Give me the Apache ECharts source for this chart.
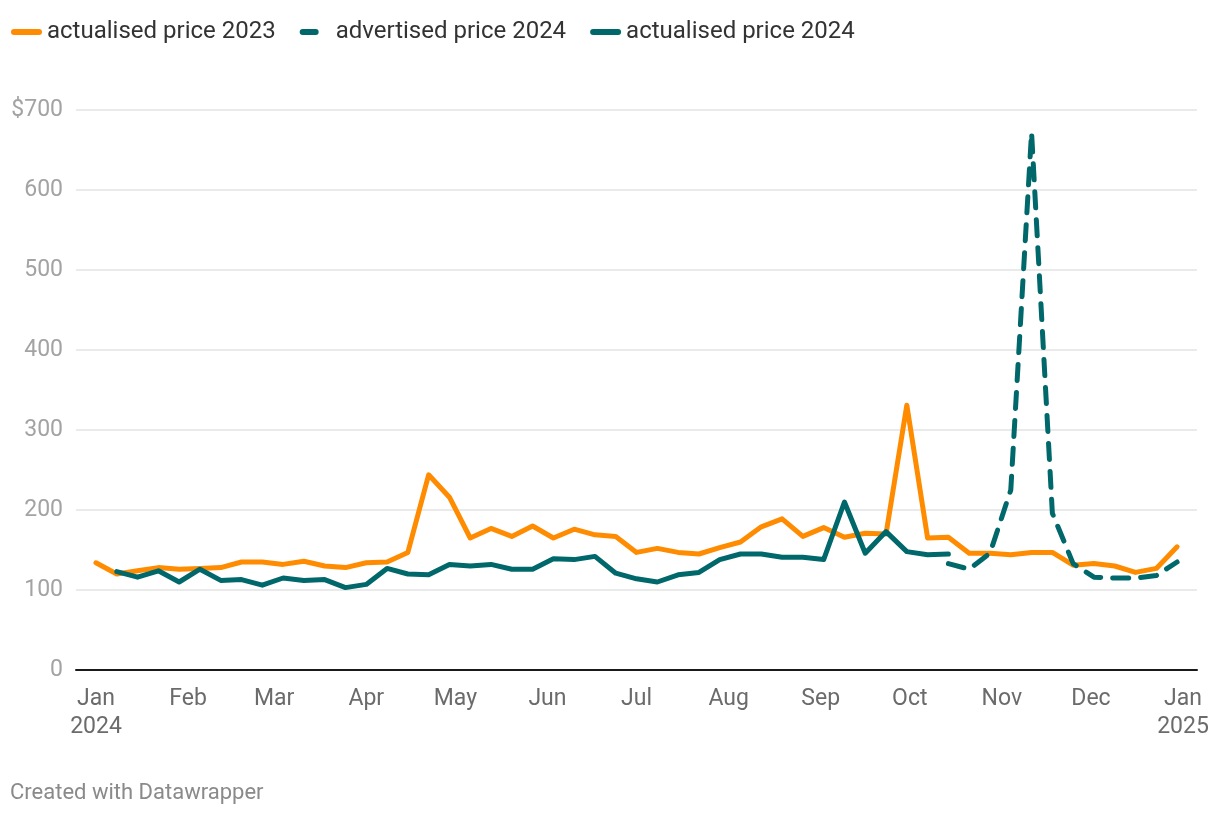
<!DOCTYPE html>
<html>
<head>
<meta charset="utf-8">
<script src="https://cdn.jsdelivr.net/npm/echarts@6/dist/echarts.min.js"></script>
<style>
  html, body { margin: 0; padding: 0; background: #fff; }
  #chart { width: 1220px; height: 816px; }
</style>
</head>
<body>
<div id="chart"></div>
<script>
// Weekly observation dates (2024)
const weeks = [
  '2024-01-01','2024-01-08','2024-01-15','2024-01-22','2024-01-29',
  '2024-02-05','2024-02-12','2024-02-19','2024-02-26',
  '2024-03-04','2024-03-11','2024-03-18','2024-03-25',
  '2024-04-01','2024-04-08','2024-04-15','2024-04-22','2024-04-29',
  '2024-05-06','2024-05-13','2024-05-20','2024-05-27',
  '2024-06-03','2024-06-10','2024-06-17','2024-06-24',
  '2024-07-01','2024-07-08','2024-07-15','2024-07-22','2024-07-29',
  '2024-08-05','2024-08-12','2024-08-19','2024-08-26',
  '2024-09-02','2024-09-09','2024-09-16','2024-09-23','2024-09-30',
  '2024-10-07','2024-10-14','2024-10-21','2024-10-28',
  '2024-11-04','2024-11-11','2024-11-18','2024-11-25',
  '2024-12-02','2024-12-09','2024-12-16','2024-12-23','2024-12-30'
];

const actualised2023 = [
  134,120,124,128,126,
  127,128,135,135,
  132,136,130,128,
  134,135,147,244,216,
  165,177,167,180,
  165,176,169,167,
  147,152,147,145,153,
  160,179,189,167,
  178,166,171,170,331,
  165,166,146,146,
  144,147,147,131,
  133,130,122,127,154
];

const actualised2024 = [
  null,123,116,124,110,
  126,112,113,106,
  115,112,113,103,
  107,127,120,119,132,
  130,132,126,126,
  139,138,142,121,
  114,110,119,122,138,
  145,145,141,141,
  138,210,146,173,148,
  144,145,null,null,
  null,null,null,null,
  null,null,null,null,null
];

const advertised2024 = [
  null,null,null,null,null,
  null,null,null,null,
  null,null,null,null,
  null,null,null,null,null,
  null,null,null,null,
  null,null,null,null,
  null,null,null,null,null,
  null,null,null,null,
  null,null,null,null,null,
  null,133,126,146,
  225,672,196,133,
  116,115,115,118,135
];

const monthStarts = ['2024-01-01','2024-02-01','2024-03-01','2024-04-01','2024-05-01','2024-06-01',
  '2024-07-01','2024-08-01','2024-09-01','2024-10-01','2024-11-01','2024-12-01','2025-01-01'];
const monthLabels = ['Jan\n2024','Feb','Mar','Apr','May','Jun','Jul','Aug','Sep','Oct','Nov','Dec','Jan\n2025'];
const yTicks = [0,100,200,300,400,500,600,700];

const seriesNames = ['actualised price 2023','advertised price 2024','actualised price 2024'];

const ORANGE = '#ff8c00';
const TEAL = '#00686a';

const DAY = 86400000;
const origin = Date.parse('2024-01-01T00:00:00Z');
function dayOf(s) { return (Date.parse(s + 'T00:00:00Z') - origin) / DAY; }
function pairs(vals) {
  const out = [];
  vals.forEach((v, i) => { if (v !== null) out.push([dayOf(weeks[i]), v]); });
  return out;
}
const monthDays = monthStarts.map(dayOf);
const labelFor = {};
monthDays.forEach((d, i) => { labelFor[d] = monthLabels[i]; });

const chart = echarts.init(document.getElementById('chart'), null, { renderer: 'canvas' });

const FONT = 'Roboto, "Noto Sans", sans-serif';

chart.setOption({
  animation: false,
  textStyle: { fontFamily: FONT },
  grid: { left: 76, right: 23, top: 110, bottom: 146, containLabel: false },
  legend: {
    left: 6,
    top: 15,
    itemGap: 24,
    itemWidth: 31,
    itemHeight: 6,
    textStyle: { fontSize: 24, color: '#333', fontFamily: FONT },
    data: [
      { name: seriesNames[0], icon: 'path://M3,0h25a3,3 0 0 1 0,6h-25a3,3 0 0 1 0,-6z', itemStyle: { color: ORANGE } },
      { name: seriesNames[1], icon: 'path://M3,0h13a3,3 0 0 1 0,6h-13a3,3 0 0 1 0,-6zM31,3', itemStyle: { color: TEAL } },
      { name: seriesNames[2], icon: 'path://M3,0h25a3,3 0 0 1 0,6h-25a3,3 0 0 1 0,-6z', itemStyle: { color: TEAL } }
    ]
  },
  xAxis: {
    type: 'value',
    min: -6.73,
    max: 370.7,
    axisLine: { show: true, onZero: false, lineStyle: { color: '#1a1a1a', width: 2 } },
    axisTick: { show: false },
    splitLine: { show: false },
    axisLabel: {
      customValues: monthDays,
      formatter: (v) => labelFor[v] !== undefined ? labelFor[v] : '',
      color: '#6b6b6b',
      fontSize: 23,
      lineHeight: 28,
      margin: 15,
      fontFamily: FONT,
      verticalAlign: 'top'
    }
  },
  yAxis: {
    type: 'value',
    min: 0,
    max: 700,
    interval: 100,
    axisLine: { show: false },
    axisTick: { show: false },
    splitLine: { show: true, lineStyle: { color: '#e3e3e3', width: 1.5 } },
    axisLabel: {
      formatter: (v) => v === 700 ? '$700' : String(v),
      color: '#a3a3a3',
      fontSize: 23,
      margin: 13,
      fontFamily: FONT
    }
  },
  graphic: [
    {
      type: 'text',
      left: 10,
      top: 782,
      style: { text: 'Created with Datawrapper', fill: '#8a8a8a', font: '22px ' + FONT }
    }
  ],
  series: [
    {
      name: seriesNames[0],
      type: 'line',
      data: pairs(actualised2023),
      showSymbol: false,
      symbol: 'none',
      color: ORANGE,
      lineStyle: { color: ORANGE, width: 5, cap: 'round', join: 'round' },
      z: 2
    },
    {
      name: seriesNames[1],
      type: 'line',
      data: pairs(advertised2024),
      showSymbol: false,
      symbol: 'none',
      color: TEAL,
      lineStyle: { color: TEAL, width: 5, type: [16, 12], cap: 'round', join: 'round' },
      z: 3
    },
    {
      name: seriesNames[2],
      type: 'line',
      data: pairs(actualised2024),
      showSymbol: false,
      symbol: 'none',
      color: TEAL,
      lineStyle: { color: TEAL, width: 5, cap: 'round', join: 'round' },
      z: 4
    }
  ]
});
</script>
</body>
</html>
